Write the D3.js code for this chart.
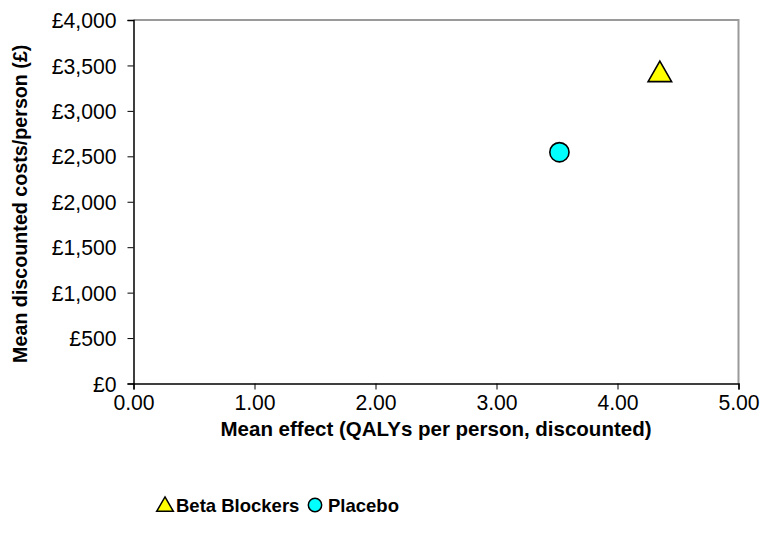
<!DOCTYPE html>
<html>
<head>
<meta charset="utf-8">
<script src="https://cdn.jsdelivr.net/npm/d3@7"></script>
<style>
  html, body { margin: 0; padding: 0; background: #fff; }
  svg text { font-family: "Liberation Sans", Arial, sans-serif; fill: #000; }
</style>
</head>
<body>
<svg id="chart" width="765" height="547"></svg>
<script>
// Cost-effectiveness plane: mean effect vs mean discounted cost per person
const series = ["Beta Blockers", "Placebo"];
const effects = [4.35, 3.52];          // QALYs per person, discounted
const costs = [3430, 2545];            // £ per person, discounted
const fills = ["#ffff00", "#00ffff"];
const shapes = [d3.symbolTriangle, d3.symbolCircle];

const xTicks = [0, 1, 2, 3, 4, 5];
const yTicks = [0, 500, 1000, 1500, 2000, 2500, 3000, 3500, 4000];

const svg = d3.select("#chart");
const plot = { left: 133.5, right: 738.5, top: 20, bottom: 383.5 };

const x = d3.scaleLinear().domain([0, 5]).range([plot.left, plot.right]);
const y = d3.scaleLinear().domain([0, 4000]).range([plot.bottom, plot.top]);

// Plot frame: grey top and right edges
svg.append("path")
  .attr("d", `M${plot.left},${plot.top}H${plot.right}V${plot.bottom}`)
  .attr("fill", "none")
  .attr("stroke", "#9a9a9a")
  .attr("stroke-width", 2);

// Y axis
const yAxis = svg.append("g")
  .attr("transform", `translate(${plot.left},0)`)
  .call(d3.axisLeft(y).tickValues(yTicks).tickSize(6).tickPadding(11)
    .tickFormat(d => "£" + d3.format(",")(d)));
yAxis.select(".domain").attr("stroke", "#000").attr("stroke-width", 1.5);
yAxis.selectAll(".tick line").attr("stroke", "#000");
yAxis.selectAll(".tick text")
  .attr("font-size", 21.2)
  .attr("dy", "0.36em")
  .style("font-family", "'Liberation Sans', Arial, sans-serif");

// X axis
const xAxis = svg.append("g")
  .attr("transform", `translate(0,${plot.bottom})`)
  .call(d3.axisBottom(x).tickValues(xTicks).tickSize(6).tickSizeOuter(6).tickPadding(5)
    .tickFormat(d3.format(".2f")));
xAxis.select(".domain").attr("stroke", "#000").attr("stroke-width", 1.5);
xAxis.selectAll(".tick line").attr("stroke", "#000");
xAxis.selectAll(".tick text")
  .attr("font-size", 21.2)
  .attr("dy", "0.71em")
  .style("font-family", "'Liberation Sans', Arial, sans-serif");

// Axis titles
svg.append("text")
  .attr("x", (plot.left + plot.right) / 2)
  .attr("y", 436)
  .attr("text-anchor", "middle")
  .attr("font-size", 20.5)
  .attr("font-weight", "bold")
  .text("Mean effect (QALYs per person, discounted)");

svg.append("text")
  .attr("transform", `translate(27,${(plot.top + plot.bottom) / 2 + 2}) rotate(-90)`)
  .attr("text-anchor", "middle")
  .attr("font-size", 19.7)
  .attr("font-weight", "bold")
  .text("Mean discounted costs/person (£)");

// Points
const pts = series.map((s, i) => ({ name: s, ex: effects[i], cost: costs[i], fill: fills[i], shape: shapes[i] }));
svg.append("g").selectAll("path")
  .data(pts)
  .join("path")
  .attr("transform", d => `translate(${x(d.ex)},${y(d.cost) + (d.shape === d3.symbolTriangle ? 3 : 0)})`)
  .attr("d", d => d3.symbol().type(d.shape).size(d.shape === d3.symbolTriangle ? 240 : 290)())
  .attr("fill", d => d.fill)
  .attr("stroke", "#000")
  .attr("stroke-width", 1.6);

// Legend
const legendPos = [{ mx: 165, tx: 176 }, { mx: 315, tx: 328 }];
const legend = svg.append("g").selectAll("g")
  .data(pts)
  .join("g");
legend.append("path")
  .attr("transform", (d, i) => `translate(${legendPos[i].mx},${505 + (d.shape === d3.symbolTriangle ? 1.5 : 0)})`)
  .attr("d", d => d3.symbol().type(d.shape).size(d.shape === d3.symbolTriangle ? 120 : 140)())
  .attr("fill", d => d.fill)
  .attr("stroke", "#000")
  .attr("stroke-width", 1.5);
legend.append("text")
  .attr("x", (d, i) => legendPos[i].tx)
  .attr("y", 512)
  .attr("font-size", 18.5)
  .attr("font-weight", "bold")
  .text(d => d.name);
</script>
</body>
</html>
